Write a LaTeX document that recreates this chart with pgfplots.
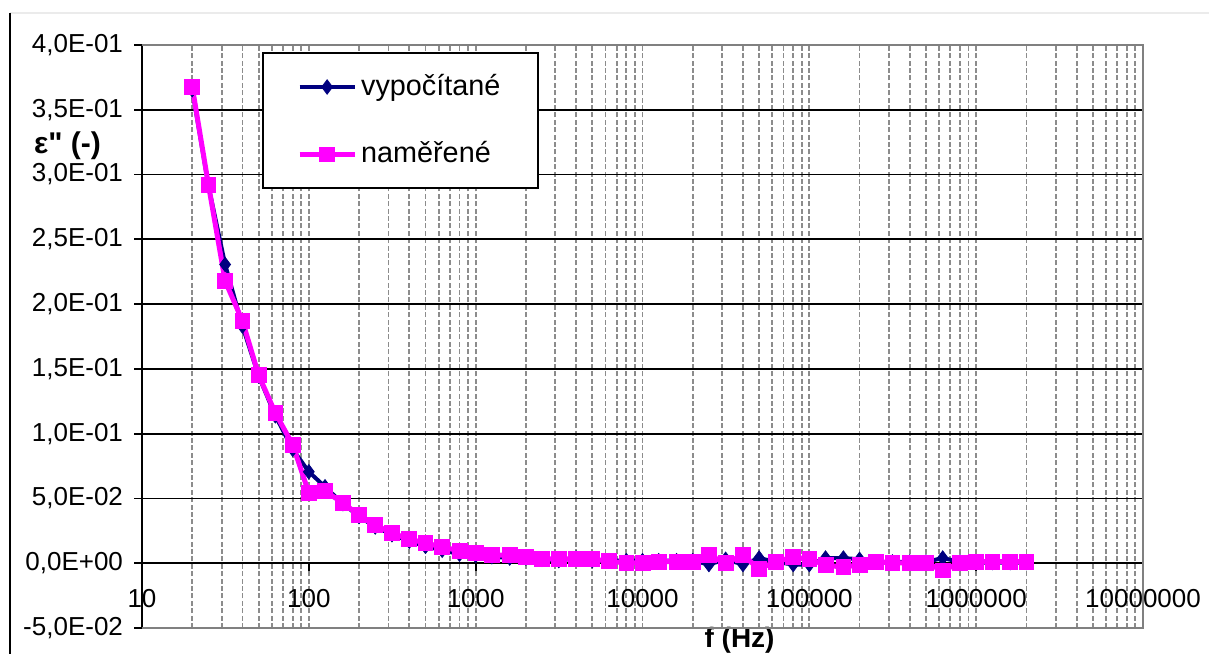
\documentclass[border=0pt]{standalone}
\usepackage{fontspec}
\setmainfont{Liberation Sans}[Ligatures=TeXOff]
\usepackage{pgfplots}
\pgfplotsset{compat=1.18}
\definecolor{navyser}{RGB}{0,0,128}
\definecolor{pinkser}{RGB}{255,0,255}
\definecolor{gridgray}{RGB}{140,140,140}
\definecolor{framegray}{RGB}{128,128,128}

\begin{document}
\begin{tikzpicture}
% page = chart area (1 px of the reference = 0.5bp)
\useasboundingbox (-71bp,-13bp) rectangle (533.5bp,314bp);
\draw[black!8, line width=0.8bp] (-66bp,307.5bp) -- (533.5bp,307.5bp);
\draw[black, line width=0.9bp] (-66bp,307.5bp) -- (-66bp,-13bp);
\begin{axis}[
    name=ax,
    at={(0,0)}, anchor=south west,
    scale only axis, width=500.5bp, height=291.5bp,
    xmode=log, xmin=10, xmax=1e7,
    ymin=-0.05, ymax=0.4,
    axis x line=middle, axis y line=left,
    axis line style={-, black, line width=0.9bp},
    hide obscured x ticks=false, hide obscured y ticks=false,
    xtick={10,100,1000,10000,100000,1000000,10000000},
    xticklabels={10,100,1000,10000,100000,1000000,10000000},
    ytick={-0.05,0,0.05,0.1,0.15,0.2,0.25,0.3,0.35,0.4},
    yticklabels={{-5,0E-02},{0,0E+00},{5,0E-02},{1,0E-01},{1,5E-01},{2,0E-01},{2,5E-01},{3,0E-01},{3,5E-01},{4,0E-01}},
    tick align=outside,
    major tick length=4bp, minor tick length=0pt,
    tick style={black, line width=0.9bp},
    tick label style={font=\fontsize{13bp}{15bp}\selectfont},
    xticklabel style={yshift=-5.5bp},
    yticklabel style={xshift=-2bp},
    xmajorgrids, xminorgrids, ymajorgrids,
    x grid style={gridgray, line width=0.9bp, dash pattern=on 2.5bp off 1.2bp},
    y grid style={black, line width=0.9bp},
    every axis x label/.style={at={(axis description cs:0.597,-0.0206)}, anchor=center,
        font=\fontsize{14bp}{17bp}\selectfont\bfseries},
    every axis y label/.style={at={(axis description cs:-0.0744,0.828)}, anchor=center,
        font=\fontsize{15bp}{18bp}\selectfont\bfseries},
    xlabel={f (Hz)},
    ylabel={ε" (-)},
    legend style={at={(axis description cs:0.12,0.988)}, anchor=north west,
        draw=black, line width=1bp, fill=white,
        font=\fontsize{14.4bp}{17bp}\selectfont,
        inner xsep=17bp, inner ysep=8bp, row sep=15.7bp,
        nodes={inner sep=2bp, text height=11bp, text depth=3bp},
        cells={anchor=west}},
    legend image code/.code={\draw[mark repeat=2,mark phase=2,#1]
        plot coordinates {(0bp,0bp) (13.75bp,0bp) (27.5bp,0bp)};},
]
\addplot[color=navyser, line width=2bp, mark=diamond*, mark size=3.6bp,
    mark options={solid, line width=0.4bp}]
coordinates {
(20,0.3655)(25,0.2916)(31.5,0.2306)(40,0.183)(50,0.1445)(63,0.1138)(80,0.088)
(100,0.0706)(125,0.059)(160,0.046)(200,0.036)(250,0.028)(315,0.022)(400,0.017)
(500,0.013)(630,0.010)(800,0.007)(1000,0.006)(1250,0.005)(1600,0.004)(2000,0.004)
(2500,0.003)(3150,0.002)(4000,0.004)(5000,0.002)(6300,0.002)(8000,0.002)
(10000,0.002)(12500,0.002)(16000,0.002)(20000,0.002)(25000,-0.001)(31500,0.003)
(40000,-0.001)(50000,0.004)(63000,0.001)(80000,-0.001)(100000,-0.001)
(125000,0.004)(160000,0.004)(200000,0.003)(250000,0.001)(315000,0.001)
(400000,0.001)(500000,0.001)(630000,0.004)(800000,0.001)(1000000,0.0005)
(1250000,0.0005)(1600000,0.0005)(2000000,0.0005)
};
\addlegendentry{vypočítané}

\addplot[color=pinkser, line width=2.5bp, mark=square*, mark size=3.7bp,
    mark options={solid, line width=0.4bp}]
coordinates {
(20,0.3679)(25,0.2923)(31.5,0.2179)(40,0.187)(50,0.1453)(63,0.1159)(80,0.0915)
(100,0.0543)(125,0.0556)(160,0.0466)(200,0.0371)(250,0.0294)(315,0.0234)
(400,0.0185)(500,0.0157)(630,0.0124)(800,0.0097)(1000,0.0078)(1250,0.0064)
(1600,0.0062)(2000,0.0046)(2500,0.0033)(3150,0.0033)(4000,0.0033)(5000,0.0033)
(6300,0.0015)(8000,0.0002)(10000,0.0002)(12500,0.0013)(16000,0.0013)
(20000,0.0013)(25000,0.0062)(31500,0.0002)(40000,0.0062)(50000,-0.0044)
(63000,0.0013)(80000,0.0046)(100000,0.0033)(125000,-0.0015)(160000,-0.003)
(200000,-0.0012)(250000,0.0013)(315000,0.0002)(400000,0.0002)(500000,0.0002)
(630000,-0.0056)(800000,0.0002)(1000000,0.0013)(1250000,0.0013)
(1600000,0.0013)(2000000,0.0013)
};
\addlegendentry{naměřené}
\end{axis}
\draw[framegray, line width=0.9bp] (ax.south west) -- (ax.south east)
    -- (ax.north east) -- (ax.north west);
\end{tikzpicture}
\end{document}
